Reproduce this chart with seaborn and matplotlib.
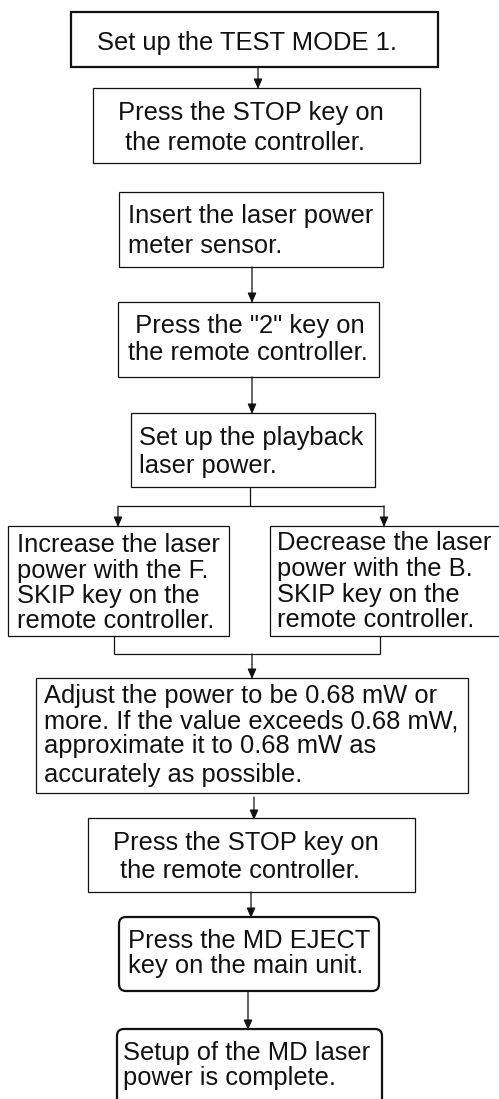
# 雷射功率設定流程圖（MD laser power setup flowchart）

import matplotlib
matplotlib.use("Agg")
import matplotlib.pyplot as plt
from matplotlib.patches import Rectangle, FancyBboxPatch
import seaborn as sns

sns.set_theme(style="white")
plt.rcParams['font.family'] = ['Liberation Sans', 'DejaVu Sans']

# 各步驟文字（每個方框一組，逐行）
step_set_mode = ["Set up the TEST MODE 1."]
step_stop_1 = ["Press the STOP key on", " the remote controller."]
step_sensor = ["Insert the laser power", "meter sensor."]
step_key2 = [" Press the \"2\" key on", "the remote controller."]
step_playback = ["Set up the playback", "laser power."]
step_increase = ["Increase the laser", "power with the F.",
                 "SKIP key on the", "remote controller."]
step_decrease = ["Decrease the laser", "power with the B.",
                 "SKIP key on the", "remote controller."]
step_adjust = ["Adjust the power to be 0.68 mW or",
               "more. If the value exceeds 0.68 mW,",
               "approximate it to 0.68 mW as",
               "accurately as possible."]
step_stop_2 = ["Press the STOP key on", " the remote controller."]
step_eject = ["Press the MD EJECT", "key on the main unit."]
step_done = ["Setup of the MD laser", "power is complete."]

# 版面配置（像素座標）：方框 (x0, y0, x1, y1)、框線樣式、文字起點與各行基線
layout = [
    (step_set_mode, (71, 12, 438, 67), "thick", 97, [50]),
    (step_stop_1, (93, 88, 420, 163), "thin", 118, [120, 150]),
    (step_sensor, (119, 192, 383, 267), "thin", 128, [223, 253]),
    (step_key2, (118, 302, 379, 377), "thin", 128, [333, 360]),
    (step_playback, (131, 413, 375, 487), "thin", 139, [445, 473]),
    (step_increase, (8, 526, 229, 636), "thin", 17, [552, 578, 603, 628]),
    (step_decrease, (270, 526, 510, 636), "thin", 277, [550, 576, 602, 627]),
    (step_adjust, (36, 678, 468, 793), "thin", 44, [703, 728, 753, 782]),
    (step_stop_2, (88, 818, 415, 892), "thin", 113, [850, 878]),
    (step_eject, (119, 917, 379, 991), "round", 128, [948, 973]),
    (step_done, (117, 1029, 382, 1115), "round", 123, [1060, 1085]),
]

# 連接線（不含箭頭）與箭頭 (x, y_start, y_end)
plain_lines = [
    ((250, 250), (487, 506)),
    ((118, 384), (506, 506)),
    ((114, 114), (636, 654)),
    ((380, 380), (636, 654)),
    ((114, 380), (654, 654)),
]
arrows = [
    (258, 67, 89),
    (252, 267, 303),
    (252, 377, 414),
    (118, 506, 527),
    (384, 506, 527),
    (252, 654, 679),
    (254, 797, 820),
    (251, 892, 918),
    (248, 991, 1030),
]

FONT_SIZE = 18.4
INK = "#111111"

fig = plt.figure(figsize=(4.99, 10.99), dpi=100)
ax = fig.add_axes([0, 0, 1, 1])
ax.set_xlim(0, 499)
ax.set_ylim(1099, 0)
ax.axis("off")

for lines, (x0, y0, x1, y1), style, tx, baselines in layout:
    if style == "round":
        box = FancyBboxPatch((x0, y0), x1 - x0, y1 - y0,
                             boxstyle="round,pad=0,rounding_size=7",
                             fc="white", ec=INK, lw=1.6)
    else:
        box = Rectangle((x0, y0), x1 - x0, y1 - y0, fc="white", ec=INK,
                        lw=1.6 if style == "thick" else 0.9)
    ax.add_patch(box)
    for line, by in zip(lines, baselines):
        ax.text(tx, by, line, fontsize=FONT_SIZE, color=INK,
                ha="left", va="baseline")

for xs, ys in plain_lines:
    ax.plot(xs, ys, color=INK, lw=0.9, solid_capstyle="butt")

for x, ys, ye in arrows:
    ax.annotate("", xy=(x, ye), xytext=(x, ys),
                arrowprops=dict(arrowstyle="-|>,head_length=0.6,head_width=0.26",
                                color=INK, lw=0.9, shrinkA=0, shrinkB=0,
                                mutation_scale=10))

fig.savefig("out.png", dpi=100, facecolor="white")
